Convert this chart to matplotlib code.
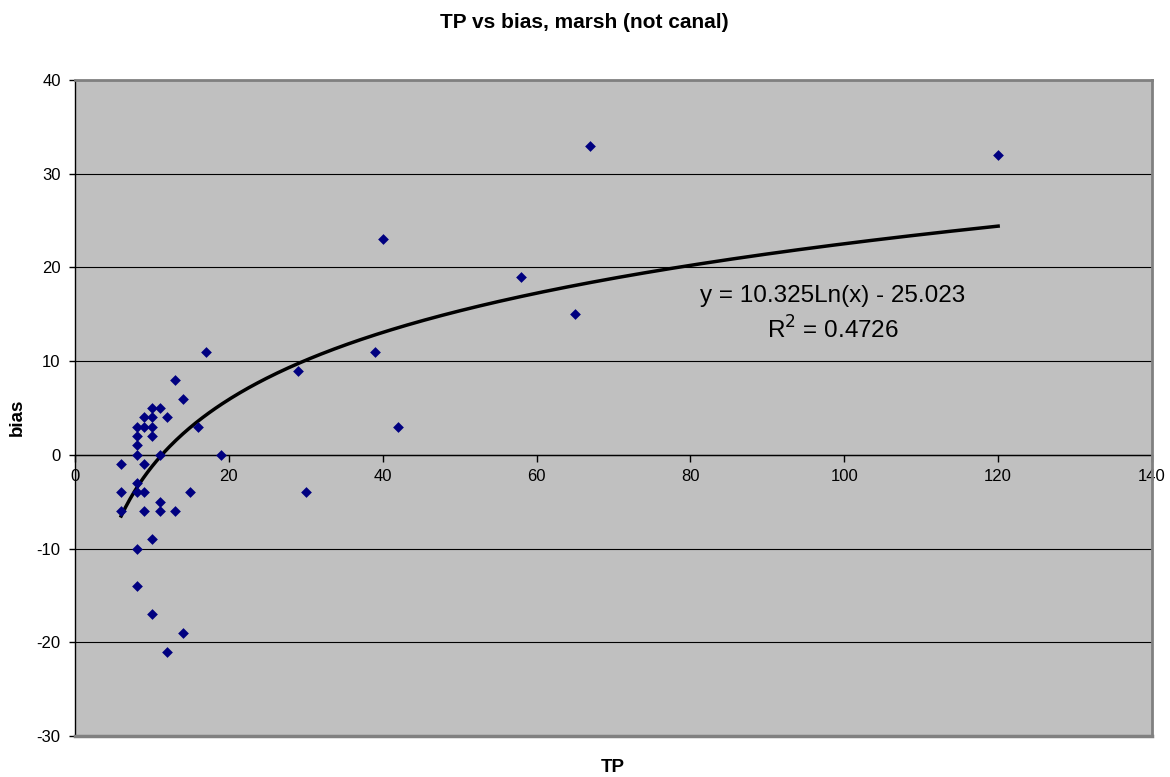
import numpy as np
import matplotlib
matplotlib.use("Agg")
import matplotlib.pyplot as plt

plt.rcParams['font.family'] = ['Liberation Sans', 'DejaVu Sans']
plt.rcParams['axes.unicode_minus'] = False

tp = [17, 13, 14, 10, 11, 9, 10, 12, 8, 9, 10, 16, 8, 10, 8, 8, 11, 19, 6, 9,
      8, 6, 8, 9, 15, 11, 6, 9, 11, 13, 10, 8, 8, 10, 14, 12,
      29, 30, 39, 40, 42, 58, 65, 67, 120]
bias = [11, 8, 6, 5, 5, 4, 4, 4, 3, 3, 3, 3, 2, 2, 1, 0, 0, 0, -1, -1,
        -3, -4, -4, -4, -4, -5, -6, -6, -6, -6, -9, -10, -14, -17, -19, -21,
        9, -4, 11, 23, 3, 19, 15, 33, 32]

coef_a = 10.325
coef_b = -25.023
r2 = 0.4726

xticks = [0, 20, 40, 60, 80, 100, 120, 140]
yticks = [-30, -20, -10, 0, 10, 20, 30, 40]

fig = plt.figure(figsize=(11.7, 7.77), dpi=100)
W, H = 1170, 777
ax = fig.add_axes([75 / W, 1 - 736 / H, (1152 - 75) / W, (736 - 80) / H])
ax.set_facecolor('#C0C0C0')
ax.set_xlim(0, 140)
ax.set_ylim(-30, 40)

for y in yticks:
    ax.axhline(y, color='#000000', lw=0.8, zorder=1)

ax.scatter(tp, bias, marker='D', s=30, color='#000080', zorder=3, linewidths=0)

xs = np.linspace(min(tp), max(tp), 400)
ax.plot(xs, coef_a * np.log(xs) + coef_b, color='black', lw=2.5, zorder=2)

for s in ['top', 'right']:
    ax.spines[s].set_color('#808080')
    ax.spines[s].set_linewidth(2)
ax.spines['left'].set_color('#000000')
ax.spines['left'].set_linewidth(1)
ax.spines['bottom'].set_position(('data', 0))
ax.spines['bottom'].set_color('#000000')
ax.spines['bottom'].set_linewidth(1)
ax.spines['bottom'].set_zorder(2)
ax.plot([0, 1], [0, 0], transform=ax.transAxes, color='#808080', lw=2.5, clip_on=False, zorder=4)

ax.set_xticks(xticks)
ax.set_yticks(yticks)
ax.tick_params(axis='both', labelsize=12, width=1, color='black', direction='out')
ax.tick_params(axis='y', length=4.3, pad=6)
ax.tick_params(axis='x', length=5, pad=5)

ax.text(98.5, 16.9, 'y = 10.325Ln(x) - 25.023', fontsize=17.5, ha='center', va='center', zorder=5)
ax.text(98.5, 13.3, 'R$^2$ = %.4f' % r2, fontsize=17.5, ha='center', va='center', zorder=5)

fig.text(584 / W, 1 - 22 / H, 'TP vs bias, marsh (not canal)', fontsize=15, fontweight='bold', ha='center', va='center')
fig.text(613 / W, 1 - 767 / H, 'TP', fontsize=13.5, fontweight='bold', ha='center', va='center')
fig.text(17.5 / W, 1 - 417 / H, 'bias', fontsize=13.5, fontweight='bold', ha='center', va='center', rotation=90)

fig.savefig('out.png', dpi=100)
